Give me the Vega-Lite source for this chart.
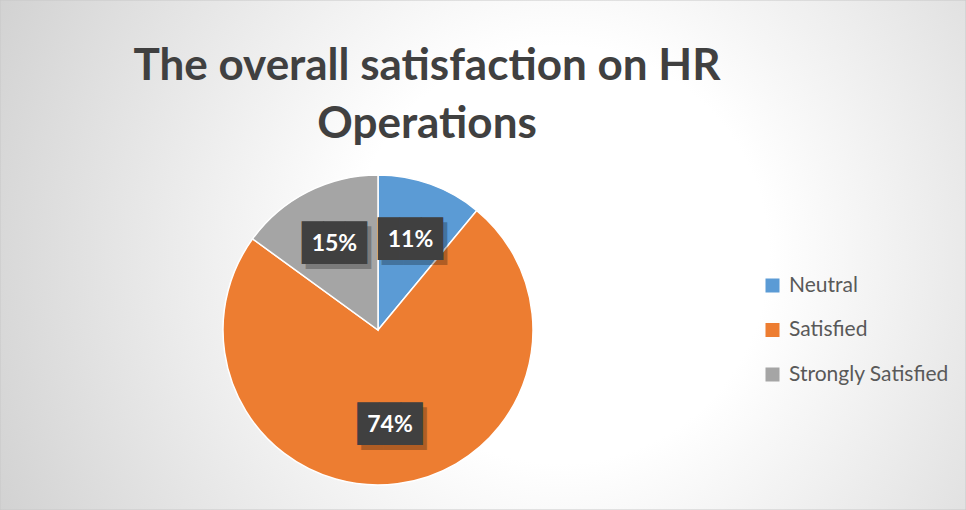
{
  "$schema": "https://vega.github.io/schema/vega-lite/v6.json",
  "width": 966,
  "height": 510,
  "autosize": {"type": "none"},
  "padding": 0,
  "background": "#ffffff",
  "config": {"view": {"stroke": null}},
  "title": {
    "text": ["The overall satisfaction on HR", "Operations"],
    "anchor": "middle",
    "frame": "group",
    "offset": -191,
    "dx": -56,
    "fontSize": 44,
    "font": "Lato",
    "fontWeight": "bold",
    "color": "#404040",
    "lineHeight": 58,
    "baseline": "bottom"
  },
  "data": {
    "values": [
      {"category": "Neutral", "pct": 11, "order": 1, "label": "11%"},
      {"category": "Satisfied", "pct": 74, "order": 2, "label": "74%"},
      {"category": "Strongly Satisfied", "pct": 15, "order": 3, "label": "15%"}
    ]
  },
  "layer": [
    {
      "data": {"values": [{"bg": 1}]},
      "mark": {
        "type": "rect",
        "stroke": "#c8c8c8",
        "strokeWidth": 1,
        "fill": {
          "gradient": "radial",
          "x1": 0.58, "y1": 0.5, "r1": 0,
          "x2": 0.58, "y2": 0.5, "r2": 0.77,
          "stops": [
            {"offset": 0, "color": "#ffffff"},
            {"offset": 0.28, "color": "#ffffff"},
            {"offset": 1, "color": "#c4c4c4"}
          ]
        }
      },
      "encoding": {}
    },
    {
      "mark": {"type": "arc", "radius": 155, "xOffset": -105, "yOffset": 75, "stroke": "#ffffff", "strokeWidth": 1.5},
      "encoding": {
        "theta": {"field": "pct", "type": "quantitative", "stack": true},
        "order": {"field": "order", "type": "quantitative"},
        "color": {
          "field": "category",
          "type": "nominal",
          "scale": {"domain": ["Neutral", "Satisfied", "Strongly Satisfied"], "range": ["#5B9BD5", "#ED7D31", "#A5A5A5"]},
          "legend": {
            "orient": "none",
            "legendX": 762,
            "legendY": 275,
            "title": null,
            "symbolType": "square",
            "symbolSize": 196,
            "symbolStrokeWidth": 0,
            "labelFontSize": 21,
            "labelFont": "Lato",
            "labelColor": "#595959",
            "rowPadding": 22.5,
            "labelOffset": 6,
            "padding": 0
          }
        }
      }
    },
    {
      "mark": {"type": "text", "radius": 96, "xOffset": -101, "yOffset": 80, "font": "DejaVu Sans Mono", "fontSize": 36, "color": "#000000", "opacity": 0.25, "align": "center", "baseline": "middle"},
      "encoding": {
        "theta": {"field": "pct", "type": "quantitative", "stack": true},
        "order": {"field": "order", "type": "quantitative"},
        "text": {"value": "███"}
      }
    },
    {
      "mark": {"type": "text", "radius": 96, "xOffset": -105, "yOffset": 75, "font": "DejaVu Sans Mono", "fontSize": 36, "color": "#404040", "align": "center", "baseline": "middle"},
      "encoding": {
        "theta": {"field": "pct", "type": "quantitative", "stack": true},
        "order": {"field": "order", "type": "quantitative"},
        "text": {"value": "███"}
      }
    },
    {
      "mark": {"type": "text", "radius": 96, "xOffset": -105, "yOffset": 75, "font": "Lato", "fontWeight": "bold", "fontSize": 23, "color": "#ffffff", "align": "center", "baseline": "middle"},
      "encoding": {
        "theta": {"field": "pct", "type": "quantitative", "stack": true},
        "order": {"field": "order", "type": "quantitative"},
        "text": {"field": "label", "type": "nominal"}
      }
    }
  ]
}
